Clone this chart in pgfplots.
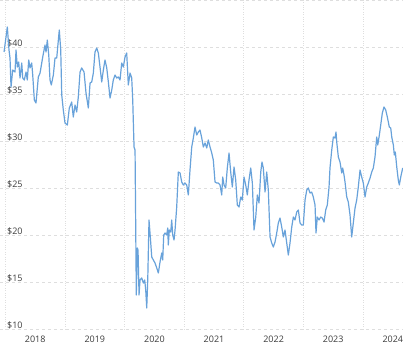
\documentclass[border=0pt]{standalone}
\usepackage{pgfplots}
\pgfplotsset{compat=1.18}
\usepackage{fontspec}
\setmainfont{Open Sans}
\definecolor{linecol}{RGB}{104,162,218}
\definecolor{gridcol}{RGB}{222,222,222}
\definecolor{txtcol}{RGB}{60,60,60}
\begin{document}
\begin{tikzpicture}
\begin{axis}[
  at={(0,0)}, anchor=south west,
  scale only axis, width=403pt, height=329pt,
  xmin=2017.909, xmax=2024.671, ymin=10, ymax=45,
  axis line style={draw=none},
  major tick style={draw=none}, minor tick style={draw=none},
  xtick={2018.5,2019.5,2020.5,2021.5,2022.5,2023.5,2024.5},
  xticklabels={2018,2019,2020,2021,2022,2023,2024},
  minor xtick={2018,2019,2020,2021,2022,2023,2024},
  xminorgrids=true, xmajorgrids=false,
  minor grid style={gridcol, dotted, line width=0.8pt},
  ytick={10,15,20,25,30,35,40,45},
  yticklabels={\$10,\$15,\$20,\$25,\$30,\$35,\$40,{}},
  ymajorgrids=true,
  major grid style={gridcol, dashed, line width=0.6pt},
  tick label style={font=\fontsize{9}{10}\selectfont, text=txtcol},
  yticklabel style={anchor=south west, inner sep=0pt, xshift=7pt, yshift=-0.5pt},
  xticklabel style={yshift=-3pt},
  clip=true,
]
\addplot[linecol, line width=1.2pt, line join=round] table {
x y
2017.977 39.47
2018.032 42.13
2018.060 39.68
2018.077 38.83
2018.094 35.74
2018.122 37.55
2018.161 37.34
2018.178 39.68
2018.200 37.87
2018.223 38.40
2018.245 36.70
2018.274 38.30
2018.290 36.70
2018.317 36.49
2018.346 37.34
2018.367 36.49
2018.391 38.62
2018.413 37.77
2018.441 38.30
2018.458 37.02
2018.485 34.36
2018.513 34.04
2018.552 36.81
2018.581 37.23
2018.626 38.94
2018.664 40.21
2018.681 39.47
2018.703 40.74
2018.727 39.15
2018.748 36.49
2018.770 35.96
2018.804 37.02
2018.832 38.83
2018.861 38.83
2018.888 40.74
2018.904 41.81
2018.928 39.68
2018.945 34.89
2018.971 33.30
2019.000 31.91
2019.039 31.70
2019.072 33.51
2019.112 34.15
2019.139 32.55
2019.168 33.83
2019.196 33.09
2019.223 34.68
2019.252 37.34
2019.280 37.77
2019.319 37.34
2019.352 35.11
2019.391 33.51
2019.420 36.17
2019.448 36.28
2019.475 37.23
2019.503 39.47
2019.532 39.89
2019.559 39.36
2019.587 37.87
2019.616 36.28
2019.643 37.55
2019.671 38.62
2019.700 37.77
2019.727 36.28
2019.755 34.57
2019.784 35.43
2019.810 36.49
2019.839 37.02
2019.868 36.70
2019.894 36.81
2019.923 36.49
2019.951 38.30
2019.978 37.87
2020.007 38.94
2020.035 39.36
2020.062 35.96
2020.091 37.23
2020.119 36.70
2020.136 34.36
2020.158 29.36
2020.175 29.04
2020.196 13.62
2020.213 18.62
2020.225 18.40
2020.242 13.62
2020.258 15.21
2020.287 15.43
2020.314 14.89
2020.337 15.21
2020.354 14.15
2020.371 12.23
2020.388 15.21
2020.409 21.60
2020.431 19.79
2020.455 17.66
2020.482 17.34
2020.510 17.02
2020.539 16.49
2020.566 15.96
2020.594 17.13
2020.623 18.09
2020.639 17.34
2020.656 20.00
2020.678 20.21
2020.706 20.00
2020.723 20.74
2020.733 18.94
2020.750 20.53
2020.774 20.32
2020.790 21.60
2020.807 20.00
2020.829 19.47
2020.846 20.53
2020.874 22.98
2020.901 26.70
2020.930 26.60
2020.958 25.64
2020.985 25.32
2021.013 25.53
2021.042 25.32
2021.069 24.26
2021.097 26.91
2021.126 29.36
2021.153 30.32
2021.181 31.49
2021.210 30.64
2021.237 30.96
2021.265 31.17
2021.294 30.32
2021.321 29.36
2021.349 29.79
2021.378 29.26
2021.404 30.11
2021.433 29.36
2021.462 28.72
2021.488 27.98
2021.517 25.64
2021.545 25.53
2021.572 25.53
2021.601 25.32
2021.629 24.26
2021.646 26.17
2021.668 25.32
2021.696 25.00
2021.723 27.13
2021.752 28.72
2021.780 26.70
2021.807 25.11
2021.836 27.23
2021.864 25.85
2021.891 23.19
2021.920 22.98
2021.948 24.04
2021.975 23.72
2022.003 26.17
2022.032 25.32
2022.059 24.26
2022.087 25.85
2022.116 27.13
2022.143 25.53
2022.171 20.53
2022.200 21.91
2022.227 24.26
2022.255 23.40
2022.284 26.70
2022.305 27.77
2022.327 27.13
2022.356 24.57
2022.384 26.70
2022.411 24.79
2022.440 19.79
2022.468 19.15
2022.495 18.72
2022.524 19.26
2022.552 20.21
2022.579 21.28
2022.607 21.81
2022.636 20.85
2022.663 19.79
2022.691 20.53
2022.720 19.15
2022.747 17.87
2022.775 19.15
2022.804 20.85
2022.831 21.91
2022.859 21.60
2022.888 22.45
2022.915 22.66
2022.943 21.28
2022.972 21.06
2022.998 21.06
2023.027 23.72
2023.056 24.79
2023.082 25.00
2023.111 24.47
2023.139 24.57
2023.166 24.04
2023.195 23.19
2023.211 20.21
2023.233 21.91
2023.262 21.60
2023.290 21.91
2023.317 21.81
2023.346 21.38
2023.374 22.66
2023.401 23.19
2023.430 25.11
2023.446 27.13
2023.475 29.04
2023.502 30.43
2023.530 30.32
2023.547 30.96
2023.559 29.89
2023.586 28.30
2023.614 27.77
2023.643 26.60
2023.659 27.13
2023.681 26.38
2023.698 25.64
2023.727 24.04
2023.753 23.51
2023.782 22.13
2023.810 19.79
2023.837 21.28
2023.866 22.87
2023.894 23.72
2023.921 25.11
2023.950 26.91
2023.978 26.17
2024.005 25.53
2024.034 24.04
2024.062 25.11
2024.089 25.53
2024.118 26.06
2024.146 26.70
2024.173 27.13
2024.201 28.30
2024.230 30.43
2024.247 29.57
2024.274 30.64
2024.297 31.70
2024.324 32.98
2024.352 33.62
2024.381 33.30
2024.408 32.55
2024.441 31.49
2024.465 31.38
2024.482 30.43
2024.509 29.57
2024.525 28.51
2024.542 28.83
2024.566 27.23
2024.592 25.85
2024.609 25.32
2024.633 26.17
2024.666 27.13
};
\end{axis}
\pgfresetboundingbox
\path[use as bounding box] (0,-20pt) rectangle (403pt,329pt);
\end{tikzpicture}
\end{document}
